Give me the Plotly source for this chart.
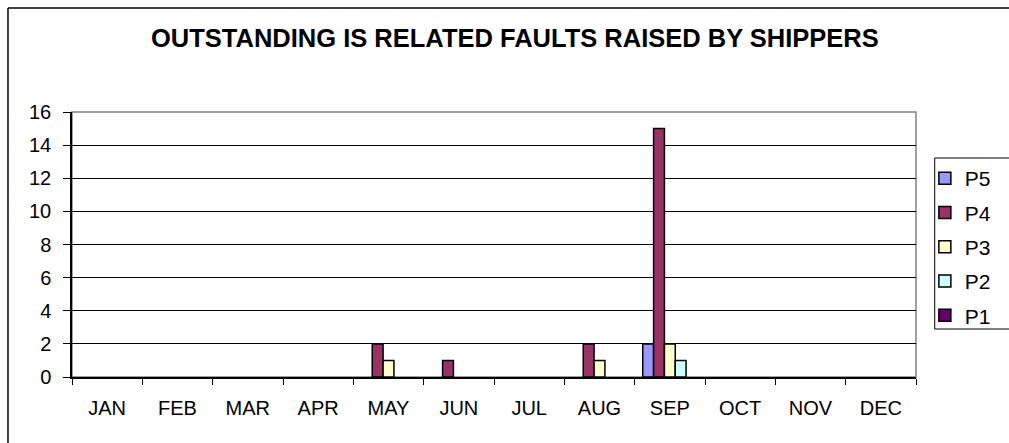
import plotly.graph_objects as go

months = ["JAN", "FEB", "MAR", "APR", "MAY", "JUN", "JUL", "AUG", "SEP", "OCT", "NOV", "DEC"]
series_names = ["P5", "P4", "P3", "P2", "P1"]
p5 = [0, 0, 0, 0, 0, 0, 0, 0, 2, 0, 0, 0]
p4 = [0, 0, 0, 0, 2, 1, 0, 2, 15, 0, 0, 0]
p3 = [0, 0, 0, 0, 1, 0, 0, 1, 2, 0, 0, 0]
p2 = [0, 0, 0, 0, 0, 0, 0, 0, 1, 0, 0, 0]
p1 = [0, 0, 0, 0, 0, 0, 0, 0, 0, 0, 0, 0]
series_values = [p5, p4, p3, p2, p1]
colors = ["#9999FF", "#993366", "#FFFFCC", "#CCFFFF", "#660066"]
y_ticks = [0, 2, 4, 6, 8, 10, 12, 14, 16]

W, H = 1009, 443
L, R, T, B = 72, 929, 112, 377

fig = go.Figure()
for name, vals, col in zip(series_names, series_values, colors):
    fig.add_trace(go.Bar(
        x=months, y=[v if v else None for v in vals], name=name, legendgroup=name,
        marker=dict(color=col, line=dict(color="black", width=1.5)),
    ))

def px_x(p):
    return (p - L) / (R - L)

def px_y(p):
    return (B - p) / (B - T)

def seg(x0, y0, x1, y1, color="black", width=1.0):
    return dict(type="line", xref="paper", yref="paper",
                x0=px_x(x0), y0=px_y(y0), x1=px_x(x1), y1=px_y(y1),
                line=dict(color=color, width=width), layer="below")

fig.update_layout(
    width=W, height=H,
    margin=dict(l=L, r=W - R, t=T, b=H - B, pad=0),
    paper_bgcolor="white", plot_bgcolor="white",
    font=dict(family="Liberation Sans, Arial, sans-serif", color="black", size=20),
    barmode="group", bargap=0.23, bargroupgap=0,
    showlegend=True,
    legend=dict(
        x=px_x(938), y=px_y(158), xanchor="left", yanchor="top",
        bgcolor="rgba(0,0,0,0)", borderwidth=0,
        font=dict(size=21), traceorder="grouped", tracegroupgap=4,
    ),
    annotations=[dict(
        text="<b>OUTSTANDING IS RELATED FAULTS RAISED BY SHIPPERS</b>",
        xref="paper", yref="paper", x=px_x(522), y=px_y(38),
        xanchor="center", yanchor="middle", showarrow=False,
        font=dict(size=25.5, color="black"),
    )],
    shapes=[
        # outer chart border (top and left visible)
        seg(7, 8, 1030, 8, width=1.5),
        seg(7, 8, 7, 460, width=1.5),
        # legend box (right side outside the picture)
        seg(948, 158, 1030, 158),
        seg(948, 158, 948, 329),
        seg(948, 329, 1030, 329),
        # plot area border
        dict(type="rect", xref="paper", yref="paper", x0=0, x1=1, y0=0, y1=1,
             line=dict(color="#808080", width=1.5), layer="below"),
    ],
)
fig.update_xaxes(
    type="category", categoryorder="array", categoryarray=months,
    showline=True, linecolor="black", linewidth=1.5,
    ticks="outside", tickson="boundaries", ticklen=6, tickcolor="black", tickwidth=1,
    showgrid=False, tickfont=dict(size=20), ticklabelstandoff=12,
)
fig.update_yaxes(
    range=[0, 16], tickvals=y_ticks, showgrid=True, gridcolor="black", gridwidth=1,
    showline=True, linecolor="black", linewidth=1.5, zeroline=False,
    ticks="outside", ticklen=7, tickcolor="black", tickwidth=1,
    tickfont=dict(size=20), ticklabelstandoff=8,
)
fig.write_html("out.html", config={"displayModeBar": False},
               post_script="document.body.style.margin='0';")
